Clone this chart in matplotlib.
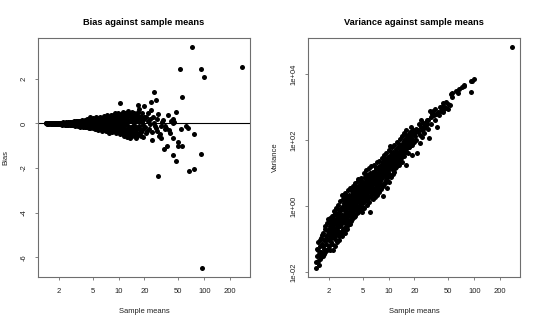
import numpy as np
import matplotlib
matplotlib.use("Agg")
import matplotlib.pyplot as plt
from matplotlib.ticker import FixedLocator, NullLocator

plt.rcParams['font.family'] = ['Liberation Sans', 'DejaVu Sans']

core_mean = [
    1.42, 1.45, 1.47, 1.50, 1.52, 1.55, 1.57, 1.60, 1.62, 1.64, 1.67, 1.70, 1.72, 1.75, 1.77, 1.80,
    1.82, 1.85, 1.88, 1.90, 1.93, 1.96, 1.98,
    2.02, 2.05, 2.08, 2.10, 2.13, 2.16, 2.19, 2.22, 2.25, 2.28, 2.30, 2.33, 2.36, 2.40, 2.43, 2.46,
    2.50, 2.53, 2.56, 2.60, 2.63, 2.66, 2.70, 2.73, 2.77, 2.80, 2.84, 2.87, 2.90, 2.94, 2.97,
    3.02, 3.05, 3.08, 3.12, 3.15, 3.19, 3.22, 3.26, 3.30, 3.33, 3.37, 3.41, 3.45, 3.49, 3.53, 3.57,
    3.61, 3.65, 3.70, 3.74, 3.78, 3.83, 3.87, 3.92, 3.96, 4.01, 4.05, 4.10, 4.15, 4.20, 4.25, 4.30,
    4.35, 4.40, 4.45, 4.50, 4.56, 4.62, 4.68, 4.74, 4.80, 4.86, 4.93, 4.99,
    5.05, 5.11, 5.18, 5.24, 5.30, 5.37, 5.44, 5.51, 5.58, 5.65, 5.72, 5.80, 5.87, 5.95, 6.03, 6.10,
    6.18, 6.26, 6.35, 6.43, 6.52, 6.60, 6.69, 6.78, 6.87, 6.96, 7.05, 7.14, 7.23, 7.33, 7.42, 7.52,
    7.62, 7.72, 7.82, 7.65,
    8.02, 8.13, 8.24, 8.35, 8.46, 8.57, 8.68, 8.80, 8.92, 9.04, 9.16, 9.28, 9.40, 9.53, 9.66, 9.79,
    9.92, 10.05, 10.2, 10.3, 10.5, 10.6, 10.8, 10.9, 11.1, 11.2, 11.4, 11.6, 11.7, 11.9,
    12.1, 12.3, 12.5, 12.7, 12.9, 13.1, 13.3, 13.5, 13.8, 14.0, 14.2, 14.5, 14.7, 15.0, 15.3, 15.6,
    15.9, 16.3, 16.6, 17.0, 17.4, 17.8, 18.2, 18.7, 19.2, 19.7,
]
core_bias = [
    0.00, -0.01, 0.01, 0.00, -0.01, 0.01, 0.00, 0.01, -0.01, 0.00, 0.02, -0.01, 0.00, 0.01, -0.02, 0.00,
    0.01, -0.01, 0.02, 0.00, -0.02, 0.01, 0.00,
    0.02, -0.03, 0.01, 0.00, -0.02, 0.03, -0.01, 0.02, -0.04, 0.01, 0.00, -0.02, 0.04, -0.01, 0.02, -0.05,
    0.03, 0.00, -0.03, 0.05, -0.02, 0.01, -0.04, 0.06, 0.00, -0.06, 0.02, -0.02, 0.04, -0.05, 0.03,
    0.00, -0.07, 0.05, -0.03, 0.08, -0.09, 0.02, -0.05, 0.06, -0.02, 0.10, -0.08, 0.03, -0.11, 0.07, -0.04,
    0.12, -0.06, 0.01, -0.12, 0.09, -0.03, 0.05, -0.09, 0.13, -0.07, 0.04, -0.14, 0.08, -0.02, 0.15, -0.10,
    0.06, -0.16, 0.11, -0.05, 0.02, -0.13, 0.30, -0.08, 0.09, -0.18, 0.05, -0.03,
    0.12, -0.10, 0.20, -0.21, 0.03, -0.06, 0.14, -0.15, 0.08, -0.24, 0.18, -0.04, 0.10, -0.19, 0.24, -0.09,
    0.05, -0.27, 0.15, -0.12, 0.02, -0.22, 0.21, -0.06, 0.11, -0.30, 0.27, -0.14, 0.07, -0.25, 0.17, -0.03,
    0.31, -0.18, 0.09, -0.42,
    0.22, -0.08, 0.35, -0.28, 0.12, -0.15, 0.04, 0.27, -0.36, 0.16, -0.05, 0.38, -0.22, 0.08, -0.40, 0.29,
    -0.12, 0.19, -0.31, 0.02, 0.92, -0.19, 0.33, -0.44, 0.11, -0.08, 0.41, -0.27, 0.24, -0.52,
    0.05, -0.35, 0.46, -0.62, 0.17, -0.15, 0.36, -0.66, 0.09, -0.42, 0.52, -0.24, 0.28, -0.05, -0.50, 0.40,
    -0.30, 0.14, -0.58, 0.33, -0.12, 0.21, -0.40, 0.06, -0.25, 0.30,
]
core_var = [
    0.013, 0.03, 0.05, 0.022, 0.08, 0.035, 0.025, 0.06, 0.11, 0.04, 0.07, 0.03, 0.15, 0.05, 0.09, 0.2,
    0.04, 0.12, 0.07, 0.3, 0.1, 0.05, 0.18,
    0.09, 0.25, 0.14, 0.045, 0.35, 0.11, 0.2, 0.07, 0.5, 0.045, 0.16, 0.28, 0.1, 0.6, 0.22, 0.13,
    0.4, 0.08, 0.3, 0.18, 0.75, 0.12, 0.45, 0.25, 0.9, 0.16, 0.55, 2.1, 0.3, 0.2, 1.0,
    0.55, 0.16, 0.9, 0.3, 1.4, 0.45, 0.7, 0.25, 1.2, 0.6, 0.38, 1.7, 0.85, 0.3, 1.1, 0.5,
    2.0, 0.7, 1.3, 0.4, 0.95, 2.5, 0.6, 1.5, 0.75, 3.0, 1.1, 0.5, 1.8, 0.9, 2.6, 1.3,
    0.65, 2.0, 6.5, 1.0, 3.2, 1.6, 0.8, 2.4, 1.2, 3.6, 1.9, 0.9,
    2.8, 1.4, 4.2, 0.9, 2.2, 5.5, 1.6, 3.3, 1.1, 2.6, 6.5, 1.9, 3.9, 1.3, 2.9, 0.66,
    4.8, 2.2, 7.5, 3.1, 1.6, 5.2, 2.5, 9.0, 3.6, 1.9, 6.0, 2.8, 14.0, 4.2, 2.2, 7.2,
    3.4, 9.5, 4.8, 2.7,
    5.8, 3.3, 11.0, 7.0, 4.0, 15.0, 2.0, 8.5, 5.0, 19.0, 10.0, 6.0, 13.0, 3.5, 22.0, 8.0,
    16.0, 5.5, 30.0, 66.0, 20.0, 7.5, 45.0, 14.0, 24.0, 9.5, 17.0, 35.0, 11.0, 21.0,
    28.0, 15.0, 42.0, 20.0, 60.0, 33.0, 18.0, 48.0, 26.0, 70.0, 38.0, 22.0, 55.0, 170.0, 32.0, 85.0,
    45.0, 110.0, 60.0, 40.0, 95.0, 130.0, 70.0, 35.0, 150.0, 90.0,
]

# second batch of points read from the dense part of the cloud
fill_mean = [
    1.44, 1.49, 1.53, 1.58, 1.63, 1.68, 1.73, 1.78, 1.83, 1.87, 1.91, 1.95, 1.99,
    2.03, 2.07, 2.11, 2.15, 2.18, 2.23, 2.27, 2.31, 2.35, 2.38, 2.42, 2.47, 2.51,
    2.55, 2.58, 2.62, 2.67, 2.71, 2.75, 2.79, 2.83, 2.88, 2.92, 2.96, 2.99,
    3.03, 3.07, 3.11, 3.14, 3.18, 3.23, 3.27, 3.31, 3.35, 3.39,
    3.43, 3.47, 3.51, 3.55, 3.59, 3.63, 3.68, 3.72, 3.76, 3.81,
    3.85, 3.89, 3.94, 3.98, 4.03, 4.08, 4.12, 4.18, 4.23, 4.28,
    4.33, 4.38, 4.43, 4.48, 4.53, 4.59, 4.65, 4.71, 4.77, 4.83,
    4.90, 4.96,
    5.02, 5.08, 5.14, 5.21, 5.27, 5.33, 5.40, 5.47, 5.54, 5.61,
    5.68, 5.76, 5.83, 5.91, 5.99, 6.06, 6.14, 6.22, 6.30, 6.39,
    6.47, 6.56, 6.64, 6.73, 6.82, 6.91, 7.00, 7.09, 7.18, 7.28,
    7.38, 7.47, 7.57, 7.67, 7.77, 7.87, 7.97,
    8.08, 8.19, 8.30, 8.41, 8.52, 8.63, 8.74, 8.86, 8.98, 9.10,
    9.22, 9.34, 9.47, 9.60, 9.73, 9.86, 9.99, 10.1, 10.25, 10.4,
    10.55, 10.7, 10.85, 11.0, 11.15, 11.3, 11.5, 11.65, 11.8,
    12.0, 12.2, 12.4, 12.6, 12.8, 13.0, 13.2, 13.4, 13.7, 13.9,
    14.1, 14.4, 14.6, 14.9, 15.2, 15.5, 15.8, 16.1, 16.5, 16.9,
    17.3, 17.7, 18.1, 18.5, 19.0, 19.5,
]
fill_bias = [
    0.01, -0.01, 0.02, 0.00, -0.02, 0.01, -0.01, 0.02, -0.02, 0.01, -0.01, 0.03, -0.02,
    0.00, 0.04, -0.03, 0.02, -0.05, 0.01, 0.05, -0.02, 0.03, -0.06, 0.00, 0.07, -0.04,
    0.02, -0.07, 0.04, 0.00, -0.05, 0.08, -0.03, 0.05, -0.08, 0.01, 0.06, -0.04,
    0.09, -0.03, 0.04, -0.10, 0.01, 0.11, -0.06, 0.03, -0.12, 0.07,
    -0.01, 0.13, -0.09, 0.05, -0.14, 0.09, -0.04, 0.15, -0.11, 0.02,
    -0.16, 0.12, -0.07, 0.04, 0.17, -0.12, 0.07, -0.18, 0.10, -0.04,
    0.19, -0.14, 0.01, -0.20, 0.14, -0.09, 0.06, -0.22, 0.18, -0.01,
    0.10, -0.15,
    0.24, -0.20, 0.07, -0.11, 0.16, -0.26, 0.28, -0.02, 0.19, -0.17,
    0.06, -0.29, 0.22, -0.08, 0.13, -0.23, 0.30, -0.14, 0.09, -0.32,
    0.25, -0.01, 0.17, -0.26, 0.33, -0.11, 0.06, -0.35, 0.21, -0.07,
    0.36, -0.21, 0.12, -0.30, 0.26, -0.13, 0.03,
    0.40, -0.24, 0.14, -0.38, 0.31, -0.10, 0.20, -0.30, 0.45, -0.17,
    0.10, -0.43, 0.34, -0.02, 0.22, -0.35, 0.48, -0.22, 0.13, -0.47,
    0.38, -0.10, 0.25, -0.38, 0.51, -0.20, 0.07, -0.55, 0.32,
    -0.28, 0.42, -0.06, 0.21, -0.48, 0.55, -0.33, 0.12, -0.60, 0.44,
    -0.14, 0.30, -0.45, 0.08, 0.47, -0.36, 0.22, -0.16, 0.38, -0.48,
    0.10, -0.30, 0.27, -0.55, 0.15, -0.08,
]
fill_var = [
    0.02, 0.045, 0.016, 0.09, 0.028, 0.13, 0.06, 0.035, 0.25, 0.09, 0.045, 0.4, 0.14,
    0.06, 0.42, 0.2, 0.08, 0.5, 0.3, 0.12, 0.7, 0.38, 0.06, 0.9, 0.28, 0.55,
    0.15, 1.1, 0.4, 0.09, 0.7, 1.4, 0.35, 0.12, 0.9, 1.6, 0.5, 0.22,
    1.8, 0.7, 0.15, 2.4, 1.0, 0.4, 2.0, 0.2, 1.5, 3.0,
    0.55, 1.2, 0.28, 3.5, 0.8, 1.9, 0.35, 2.8, 1.2, 4.0,
    0.5, 1.6, 3.2, 0.45, 2.2, 5.0, 0.8, 1.6, 3.8, 0.6,
    2.5, 5.8, 1.4, 3.0, 0.75, 6.0, 2.0, 1.0, 4.5, 7.0,
    2.8, 0.65,
    5.5, 1.2, 10.0, 3.0, 1.5, 7.0, 2.3, 12.0, 4.0, 1.4,
    8.5, 3.2, 1.8, 14.0, 5.5, 2.0, 10.0, 3.8, 16.0, 6.0,
    1.8, 11.0, 4.5, 2.6, 18.0, 7.5, 3.2, 13.0, 5.0, 21.0,
    9.0, 3.0, 15.0, 6.5, 24.0, 4.5, 11.0,
    18.0, 7.0, 28.0, 12.0, 4.0, 22.0, 9.0, 35.0, 14.0, 5.0,
    26.0, 11.0, 40.0, 17.0, 7.0, 30.0, 12.0, 50.0, 22.0, 9.0,
    35.0, 15.0, 60.0, 26.0, 12.0, 45.0, 20.0, 70.0, 32.0,
    14.0, 55.0, 24.0, 90.0, 38.0, 20.0, 75.0, 30.0, 110.0, 50.0,
    28.0, 130.0, 60.0, 40.0, 95.0, 150.0, 55.0, 200.0, 80.0, 120.0,
    60.0, 180.0, 100.0, 250.0, 70.0, 200.0,
]

# third batch: centre of the dense band and the 20-40 stretch
mid_mean = [
    2.01, 2.06, 2.12, 2.17, 2.21, 2.26, 2.32, 2.37, 2.44, 2.49, 2.54, 2.61, 2.68, 2.74, 2.81, 2.89,
    3.04, 3.09, 3.13, 3.20, 3.25, 3.32, 3.38, 3.44, 3.50, 3.56,
    3.62, 3.69, 3.75, 3.82, 3.88, 3.95, 4.02, 4.09, 4.16, 4.22,
    4.29, 4.36, 4.44, 4.51, 4.58, 4.66, 4.73, 4.81, 4.88, 4.95,
    5.03, 5.12, 5.20, 5.28, 5.35, 5.45, 5.55, 5.63, 5.73, 5.84,
    5.94, 6.04, 6.15, 6.25, 6.36, 6.48, 6.58, 6.70, 6.83, 6.95,
    7.07, 7.20, 7.31, 7.44, 7.56, 7.69, 7.80, 7.93, 8.05, 8.16,
    8.28, 8.43, 8.58, 8.72, 8.88, 9.02, 9.18, 9.32, 9.50, 9.64, 9.80, 9.95,
    10.15, 10.35, 10.45, 10.65, 10.8, 10.95, 11.2, 11.35, 11.55, 11.75, 11.95, 12.15,
    12.45, 12.7, 12.95, 13.25, 13.55, 13.85, 14.3, 14.8, 15.1,
    15.7, 16.2, 16.7, 17.2, 17.6, 18.4, 18.9, 19.4, 19.9,
    20.3, 20.8, 21.1, 22.2, 22.7, 23.0, 24.8, 25.2, 26.5, 28.0, 28.5, 32.0, 37.5, 38.5,
]
mid_bias = [
    0.01, -0.02, 0.03, -0.01, 0.02, -0.03, 0.00, 0.03, -0.02, 0.01, -0.05, 0.03, -0.01, 0.04, -0.03, 0.02,
    -0.04, 0.06, 0.00, -0.07, 0.09, -0.01, 0.04, -0.10, 0.02, 0.10,
    -0.04, 0.07, -0.13, 0.00, 0.09, -0.06, 0.12, -0.01, -0.15, 0.05,
    0.13, -0.08, 0.03, -0.12, 0.16, -0.03, 0.08, -0.17, 0.02, 0.14,
    -0.07, 0.10, -0.16, 0.04, 0.22, -0.12, 0.01, -0.21, 0.15, -0.05,
    0.26, -0.17, 0.03, 0.19, -0.24, 0.08, -0.09, 0.27, -0.20, 0.14,
    -0.04, 0.30, -0.28, 0.05, -0.12, 0.20, -0.34, 0.11, -0.02, 0.28,
    -0.20, 0.06, 0.36, -0.28, 0.17, -0.09, 0.30, -0.33, 0.02, 0.40, -0.18, 0.14,
    -0.38, 0.27, -0.05, 0.44, -0.29, 0.09, -0.45, 0.30, -0.13, 0.47, -0.33, 0.17,
    -0.52, 0.35, -0.20, 0.48, -0.40, 0.20, -0.55, 0.40, -0.25,
    0.12, -0.45, 0.50, -0.20, 0.30, -0.35, 0.45, -0.60, 0.20,
    -0.15, 0.30, -0.45, 0.10, -0.25, 0.22, -0.40, 0.30, -0.10, 0.20, -0.33, 0.05, 0.40, -0.30,
]
mid_var = [
    0.2, 0.12, 0.3, 0.16, 0.24, 0.4, 0.2, 0.15, 0.35, 0.5, 0.22, 0.65, 0.3, 0.5, 0.8, 0.4,
    1.2, 0.35, 0.8, 0.6, 1.6, 1.0, 0.5, 1.3, 2.2, 0.9,
    1.5, 0.6, 2.2, 1.0, 2.6, 1.3, 0.9, 2.0, 3.2, 1.2,
    2.8, 1.7, 4.0, 2.3, 1.5, 3.4, 4.8, 2.0, 3.0, 1.6,
    3.8, 2.2, 5.0, 7.5, 3.0, 4.5, 2.5, 6.0, 4.0, 8.0,
    3.0, 5.5, 7.0, 4.2, 9.0, 5.5, 3.6, 8.0, 11.0, 5.0,
    7.5, 10.0, 5.5, 13.0, 8.5, 6.0, 10.0, 16.0, 7.5, 12.0,
    9.0, 15.0, 10.0, 18.0, 12.0, 9.0, 20.0, 14.0, 24.0, 16.0, 11.0, 20.0,
    26.0, 15.0, 32.0, 22.0, 17.0, 38.0, 25.0, 18.0, 30.0, 45.0, 22.0, 35.0,
    28.0, 45.0, 33.0, 60.0, 40.0, 70.0, 50.0, 80.0, 60.0,
    110.0, 75.0, 140.0, 95.0, 70.0, 130.0, 110.0, 90.0, 170.0,
    130.0, 220.0, 100.0, 180.0, 300.0, 140.0, 200.0, 330.0, 260.0, 420.0, 300.0, 600.0, 700.0, 560.0,
]

tail_mean = [
    15.8, 17.0, 17.4, 19.8, 21.4, 21.8, 23.4, 23.9, 24.1, 24.3, 25.6, 26.0, 27.3, 27.3, 29.0, 29.0,
    29.3, 30.4, 31.0, 31.5, 33.3, 33.9, 34.5, 34.7, 35.7, 36.7, 39.4, 40.7, 42.7, 42.7, 43.5, 43.8,
    44.7, 46.8, 46.8, 48.8, 48.8, 51.5, 54.3, 55.0, 55.3, 62.0, 65.0, 66.0, 71.8, 75.0, 75.8, 90.6,
    90.6, 93.0, 99.0, 277.0,
]
tail_bias = [
    -0.63, 0.82, 0.65, 0.79, -0.35, 0.47, -0.03, 0.58, 0.95, -0.73, 1.43, 0.00, 1.06, -0.22, 0.42, -2.34,
    -0.55, -0.49, -0.64, -0.12, 0.15, -1.15, -0.24, -0.12, -0.20, -1.03, -0.42, 0.13, 0.18, -0.63, -1.40, 0.04,
    0.07, 0.51, -1.66, -0.81, -1.00, 2.43, -0.24, -1.02, 1.18, -0.12, -0.22, -2.12, 3.43, -2.06, -0.46, 2.46,
    -1.37, -6.48, 2.09, 2.53,
]
tail_var = [
    17, 126, 63, 160, 40, 200, 80, 250, 400, 120, 240, 160, 360, 280, 400, 224,
    112, 740, 316, 500, 776, 575, 400, 890, 630, 250, 1000, 776, 1350, 810, 1120, 710,
    1000, 910, 1450, 1260, 870, 1150, 2500, 2000, 2630, 3160, 2630, 3550, 4170, 4360, 4680, 2880,
    6300, 6300, 7400, 67600,
]

x_ticks = [2, 5, 10, 20, 50, 100, 200]
bias_ticks = [-6, -4, -2, 0, 2]
var_ticks = [1e-2, 1e0, 1e2, 1e4]
var_tick_labels = ["1e-02", "1e+00", "1e+02", "1e+04"]

means = np.array(core_mean + fill_mean + mid_mean + tail_mean, dtype=float)
bias = np.array(core_bias + fill_bias + mid_bias + tail_bias, dtype=float)
var = np.array(core_var + fill_var + mid_var + tail_var, dtype=float)

# ---- figure ----
W, H = 540, 325
fig = plt.figure(figsize=(W / 100, H / 100), dpi=100)
frame_col = '#6e6e6e'
txt_col = '#222222'

def box(l, t, r, b):
    return [l / W, 1 - b / H, (r - l) / W, (b - t) / H]

def r_lim(lo, hi):
    pad = 0.04 * (hi - lo)
    return lo - pad, hi + pad

axes = [fig.add_axes(box(38, 38, 250, 277)), fig.add_axes(box(308, 38, 520, 277))]

for ax in axes:
    ax.set_xscale('log')
    lo, hi = r_lim(np.log10(means.min()), np.log10(means.max()))
    ax.set_xlim(10 ** lo, 10 ** hi)
    ax.xaxis.set_major_locator(FixedLocator(x_ticks))
    ax.xaxis.set_minor_locator(NullLocator())
    ax.set_xticklabels([str(t) for t in x_ticks])
    for s in ax.spines.values():
        s.set_color(frame_col)
        s.set_linewidth(0.8)
    ax.tick_params(axis='both', which='major', length=2.2, width=0.6, color=frame_col,
                   labelsize=5.5, labelcolor=txt_col)
    ax.tick_params(axis='x', pad=5.5)
    ax.tick_params(axis='y', pad=5.5, labelrotation=90)
    ax.set_xlabel('Sample means', fontsize=5.5, color=txt_col)
    ax.xaxis.set_label_coords(0.5, -0.128)

# left panel: bias
ax = axes[0]
ax.scatter(means, bias, s=13, color='black', linewidths=0, zorder=3)
ax.axhline(0, color='black', linewidth=0.8, zorder=2)
ax.set_ylim(*r_lim(bias.min(), bias.max()))
ax.yaxis.set_major_locator(FixedLocator(bias_ticks))
ax.set_yticklabels([str(t) for t in bias_ticks])
for lab in ax.get_yticklabels():
    lab.set_va('center')
ax.set_ylabel('Bias', fontsize=5.5, color=txt_col)
ax.yaxis.set_label_coords(-0.135, 0.5)
ax.set_title('Bias against sample means', fontsize=6.7, fontweight='bold', color='black', pad=9.5)

# right panel: variance
ax = axes[1]
ax.scatter(means, var, s=13, color='black', linewidths=0, zorder=3)
ax.set_yscale('log')
lo, hi = r_lim(np.log10(var.min()), np.log10(var.max()))
ax.set_ylim(10 ** lo, 10 ** hi)
ax.yaxis.set_major_locator(FixedLocator(var_ticks))
ax.yaxis.set_minor_locator(NullLocator())
ax.set_yticklabels(var_tick_labels)
for lab in ax.get_yticklabels():
    lab.set_va('center')
ax.set_ylabel('Variance', fontsize=5.5, color=txt_col)
ax.yaxis.set_label_coords(-0.135, 0.5)
ax.set_title('Variance against sample means', fontsize=6.7, fontweight='bold', color='black', pad=9.5)

fig.savefig('out.png', dpi=100, facecolor='white')
